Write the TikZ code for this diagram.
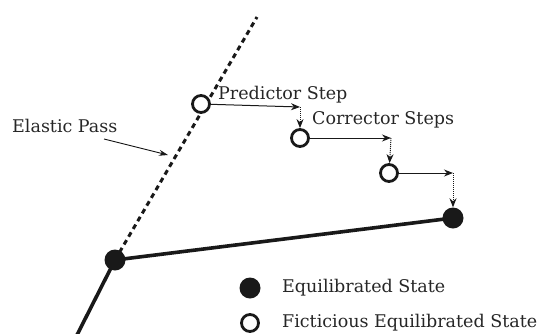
\documentclass[tikz,border=0pt]{standalone}
\usepackage{fontspec}
\setmainfont{DejaVu Serif}
\usetikzlibrary{arrows.meta}
\begin{document}
\begin{tikzpicture}[x=1pt,y=-1pt,
  eqstate/.style={circle,fill=black!90,inner sep=0pt,minimum size=21pt},
  ficstate/.style={circle,draw=black!90,line width=2.8pt,fill=white,inner sep=0pt,minimum size=17pt},
  pathline/.style={line width=3.6pt,black!90},
  elastic/.style={line width=3pt,black!90,dash pattern=on 5pt off 4pt},
  steparrow/.style={line width=1pt,black!90,-{Stealth[length=9pt,width=7pt]}},
  corrarrow/.style={line width=1pt,black!90,densely dotted,-{Stealth[length=9pt,width=7pt]}},
  lbl/.style={font=\fontsize{17.5}{20}\selectfont,text=black!85,inner sep=0pt}
]
\useasboundingbox (0,0) rectangle (539,333);
% points
\coordinate (T) at (257,17);
\coordinate (Bot) at (77,335);
\coordinate (c1) at (300,107);
\coordinate (c2) at (391,138);
\coordinate (c3) at (453,173);
\coordinate (ep) at (168,155);
% lines
\draw[elastic] (115,260) -- (T);
\draw[pathline] (115,260) -- (Bot);
\draw[pathline] (115,260) -- (453,218);
\node[eqstate] (A) at (115,260) {};
\node[eqstate] (B) at (453,218) {};
\node[ficstate] (P0) at (201,104) {};
\node[ficstate] (P1) at (300,138) {};
\node[ficstate] (P2) at (389,173) {};
% steps
\draw[steparrow] (P0) -- (c1);
\draw[corrarrow] (c1) -- (P1);
\draw[steparrow] (P1) -- (c2);
\draw[corrarrow] (c2) -- (P2);
\draw[steparrow] (P2) -- (c3);
\draw[corrarrow] (c3) -- (B);
% labels
\node[lbl,anchor=west] (pred) at (218,95) {Predictor Step};
\node[lbl,anchor=west] (corr) at (312,120) {Corrector Steps};
\node[lbl,anchor=west] (el) at (12,126) {Elastic Pass};
\coordinate (es) at (104,139);
\draw[line width=0.9pt,black!90,-{Stealth[length=9pt,width=6pt]}] (es) -- (ep);
% legend
\node[eqstate] (L1) at (250,288) {};
\node[ficstate] (L2) at (250,323) {};
\node[lbl,anchor=west] (t1) at (282,288) {Equilibrated State};
\node[lbl,anchor=west] (t2) at (282,323) {Ficticious Equilibrated State};
\end{tikzpicture}
\end{document}
